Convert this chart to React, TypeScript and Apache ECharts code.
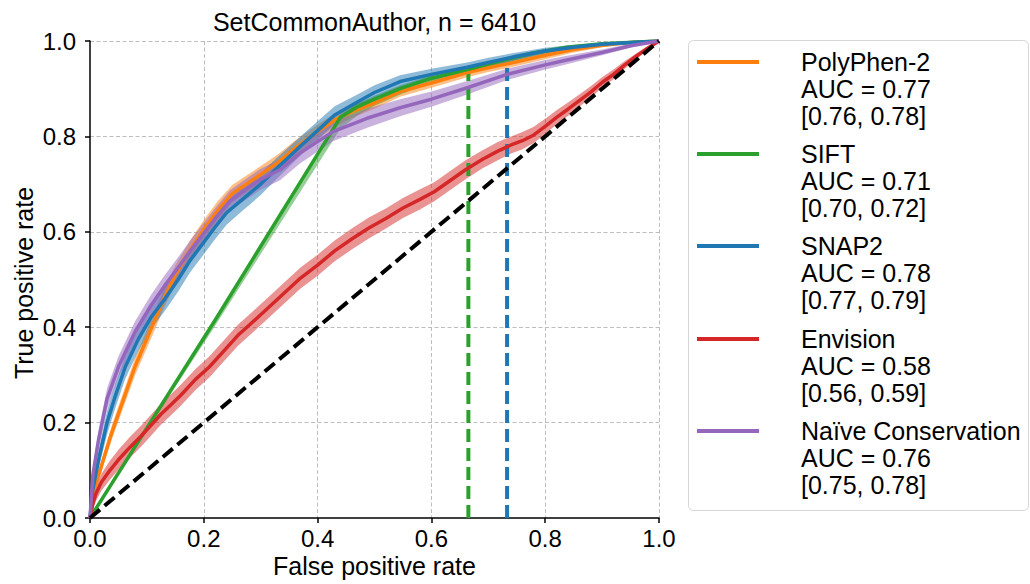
import React, { useEffect, useRef } from "react";
import * as echarts from "echarts";

const FONT = "'Liberation Sans', Arial, Helvetica, sans-serif";

const titleText = "SetCommonAuthor, n = 6410";
const xAxisLabel = "False positive rate";
const yAxisLabel = "True positive rate";
const tickValues = [0, 0.2, 0.4, 0.6, 0.8, 1.0];

const modelNames = ["PolyPhen-2", "SIFT", "SNAP2", "Envision", "Naïve Conservation"];
const aucValues = ["0.77", "0.71", "0.78", "0.58", "0.76"];
const aucIntervals = ["[0.76, 0.78]", "[0.70, 0.72]", "[0.77, 0.79]", "[0.56, 0.59]", "[0.75, 0.78]"];
const modelColors = ["#ff7f0e", "#2ca02c", "#1f77b4", "#d62728", "#9467bd"];

// PolyPhen-2
const polyphenFpr = [0, 0.009, 0.038, 0.079, 0.105, 0.114, 0.13, 0.15, 0.175, 0.2, 0.225, 0.25, 0.275, 0.3, 0.33, 0.36, 0.4, 0.43, 0.46, 0.5, 0.545, 0.6, 0.663, 0.7, 0.733, 0.8, 0.85, 0.9, 0.95, 1];
const polyphenTpr = [0, 0.066, 0.178, 0.317, 0.39, 0.415, 0.46, 0.51, 0.56, 0.605, 0.645, 0.68, 0.7, 0.72, 0.745, 0.775, 0.81, 0.834, 0.852, 0.87, 0.894, 0.912, 0.934, 0.944, 0.952, 0.97, 0.982, 0.991, 0.997, 1];
const polyphenBand = [0, 0.01, 0.015, 0.018, 0.02, 0.02, 0.02, 0.02, 0.02, 0.02, 0.02, 0.018, 0.018, 0.018, 0.017, 0.016, 0.015, 0.014, 0.013, 0.012, 0.011, 0.01, 0.01, 0.009, 0.009, 0.008, 0.006, 0.004, 0.002, 0];

// SIFT
const siftFpr = [0, 0.22, 0.44, 0.47, 0.5, 0.545, 0.6, 0.663, 0.733, 0.779, 0.838, 0.9, 1];
const siftTpr = [0, 0.415, 0.84, 0.862, 0.878, 0.9, 0.922, 0.94, 0.962, 0.975, 0.987, 0.994, 1];
const siftBandLow = [0, 0.012, 0.024, 0.018, 0.014, 0.012, 0.01, 0.008, 0.007, 0.006, 0.004, 0.003, 0];
const siftBandHigh = [0, 0.003, 0.005, 0.007, 0.007, 0.007, 0.006, 0.006, 0.005, 0.004, 0.003, 0.002, 0];

// SNAP2
const snapFpr = [0, 0.005, 0.015, 0.03, 0.044, 0.062, 0.085, 0.108, 0.132, 0.155, 0.176, 0.2, 0.22, 0.24, 0.27, 0.3, 0.33, 0.37, 0.4, 0.43, 0.47, 0.5, 0.545, 0.6, 0.663, 0.7, 0.75, 0.8, 0.85, 0.9, 1];
const snapTpr = [0, 0.06, 0.122, 0.2, 0.254, 0.317, 0.375, 0.422, 0.46, 0.5, 0.54, 0.578, 0.61, 0.64, 0.67, 0.7, 0.735, 0.78, 0.812, 0.845, 0.872, 0.892, 0.915, 0.93, 0.945, 0.955, 0.968, 0.979, 0.987, 0.993, 1];
const snapBand = [0, 0.015, 0.02, 0.025, 0.025, 0.025, 0.025, 0.025, 0.025, 0.025, 0.025, 0.025, 0.025, 0.025, 0.024, 0.023, 0.022, 0.02, 0.02, 0.018, 0.016, 0.015, 0.013, 0.012, 0.01, 0.01, 0.008, 0.007, 0.005, 0.004, 0];

// Envision
const envFpr = [0, 0.005, 0.01, 0.02, 0.035, 0.05, 0.07, 0.09, 0.11, 0.125, 0.14, 0.16, 0.185, 0.21, 0.235, 0.26, 0.285, 0.31, 0.34, 0.37, 0.4, 0.43, 0.46, 0.49, 0.52, 0.55, 0.58, 0.605, 0.63, 0.66, 0.69, 0.715, 0.74, 0.76, 0.78, 0.8, 0.82, 0.84, 0.86, 0.88, 0.9, 0.92, 0.94, 0.96, 0.98, 1];
const envTpr = [0, 0.03, 0.05, 0.075, 0.1, 0.122, 0.148, 0.172, 0.198, 0.218, 0.235, 0.258, 0.29, 0.317, 0.35, 0.383, 0.41, 0.437, 0.47, 0.503, 0.53, 0.56, 0.585, 0.608, 0.628, 0.65, 0.668, 0.684, 0.705, 0.73, 0.752, 0.768, 0.782, 0.791, 0.803, 0.821, 0.84, 0.857, 0.875, 0.893, 0.913, 0.93, 0.95, 0.968, 0.985, 1];
const envBand = [0, 0.012, 0.016, 0.018, 0.02, 0.021, 0.022, 0.022, 0.022, 0.022, 0.022, 0.022, 0.022, 0.022, 0.022, 0.022, 0.022, 0.022, 0.022, 0.022, 0.022, 0.022, 0.022, 0.022, 0.021, 0.021, 0.021, 0.02, 0.02, 0.02, 0.019, 0.019, 0.018, 0.018, 0.017, 0.016, 0.015, 0.014, 0.013, 0.012, 0.011, 0.01, 0.008, 0.006, 0.004, 0];

// Naive Conservation
const naiveFpr = [0, 0.005, 0.015, 0.03, 0.05, 0.079, 0.108, 0.13, 0.158, 0.18, 0.2, 0.22, 0.246, 0.275, 0.3, 0.334, 0.369, 0.427, 0.487, 0.545, 0.6, 0.663, 0.733, 0.8, 0.838, 0.9, 0.95, 1];
const naiveTpr = [0, 0.09, 0.164, 0.25, 0.317, 0.39, 0.447, 0.485, 0.53, 0.566, 0.597, 0.628, 0.665, 0.69, 0.71, 0.73, 0.765, 0.81, 0.838, 0.86, 0.878, 0.902, 0.93, 0.95, 0.96, 0.976, 0.99, 1];
const naiveBand = [0, 0.015, 0.02, 0.022, 0.022, 0.022, 0.022, 0.022, 0.022, 0.022, 0.022, 0.022, 0.022, 0.022, 0.022, 0.022, 0.022, 0.02, 0.02, 0.018, 0.016, 0.014, 0.012, 0.01, 0.009, 0.006, 0.004, 0];

// chance diagonal and operating-point markers
const chanceLine = [[0, 0], [1, 1]];
const siftMarker = [[0.665, 0], [0.665, 0.939]];
const snapMarker = [[0.733, 0], [0.733, 0.944]];

const GRID = { left: 90, top: 41, right: 371, bottom: 66 };

function bandSeries(fpr: number[], lo: number[], hi: number[], color: string) {
  const pts = fpr.map((x, i) => [x, lo[i], hi[i]]);
  return {
    type: "custom",
    silent: true,
    clip: true,
    data: pts.map((p) => [p[0], (p[1] + p[2]) / 2]),
    encode: { x: 0, y: 1 },
    renderItem: (params: any, api: any) => {
      if (params.dataIndex !== 0) return null;
      const upper = pts.map((p) => api.coord([p[0], p[2]]));
      const lower = pts.map((p) => api.coord([p[0], p[1]])).reverse();
      return {
        type: "polygon",
        shape: { points: upper.concat(lower) },
        style: { fill: color, opacity: 0.5 },
      };
    },
  };
}

function lineSeries(fpr: number[], tpr: number[], color: string, name: string) {
  return {
    type: "line",
    name,
    silent: true,
    data: fpr.map((x, i) => [x, tpr[i]]),
    symbol: "none",
    showSymbol: false,
    clip: true,
    lineStyle: { color, width: 3.5, join: "round" },
    itemStyle: { color },
  };
}

function dashedSeries(data: number[][], color: string) {
  return {
    type: "line",
    silent: true,
    data,
    symbol: "none",
    showSymbol: false,
    clip: false,
    lineStyle: { color, width: 4, type: [13, 6] },
    itemStyle: { color },
  };
}

export default function App() {
  const ref = useRef<HTMLDivElement>(null);
  useEffect(() => {
    if (!ref.current) return;
    const chart = echarts.init(ref.current, null, { renderer: "svg" });

    const curves = [
      { fpr: polyphenFpr, tpr: polyphenTpr, lo: polyphenTpr.map((v, i) => v - polyphenBand[i]), hi: polyphenTpr.map((v, i) => v + polyphenBand[i]) },
      { fpr: siftFpr, tpr: siftTpr, lo: siftTpr.map((v, i) => v - siftBandLow[i]), hi: siftTpr.map((v, i) => v + siftBandHigh[i]) },
      { fpr: snapFpr, tpr: snapTpr, lo: snapTpr.map((v, i) => v - snapBand[i]), hi: snapTpr.map((v, i) => v + snapBand[i]) },
      { fpr: envFpr, tpr: envTpr, lo: envTpr.map((v, i) => v - envBand[i]), hi: envTpr.map((v, i) => v + envBand[i]) },
      { fpr: naiveFpr, tpr: naiveTpr, lo: naiveTpr.map((v, i) => v - naiveBand[i]), hi: naiveTpr.map((v, i) => v + naiveBand[i]) },
    ];

    const series: any[] = [];
    series.push(dashedSeries(siftMarker, modelColors[1]));
    series.push(dashedSeries(snapMarker, modelColors[2]));
    curves.forEach((c, k) => {
      series.push(bandSeries(c.fpr, c.lo, c.hi, modelColors[k]));
      series.push(lineSeries(c.fpr, c.tpr, modelColors[k], modelNames[k]));
    });
    series.push(dashedSeries(chanceLine, "#000000"));

    const legendX = 688.5;
    const legendY = 40.5;
    const entryY = [62, 154, 246, 339, 431];
    const graphics: any[] = [
      {
        type: "text",
        x: 374.5,
        y: 22,
        style: { text: titleText, font: `25px ${FONT}`, fill: "#000", align: "center", verticalAlign: "middle" },
      },
      {
        type: "text",
        x: 374.5,
        y: 566,
        style: { text: xAxisLabel, font: `25px ${FONT}`, fill: "#000", align: "center", verticalAlign: "middle" },
      },
      {
        type: "text",
        x: 24,
        y: 283,
        rotation: Math.PI / 2,
        style: { text: yAxisLabel, font: `25px ${FONT}`, fill: "#000", align: "center", verticalAlign: "middle" },
      },
      {
        type: "rect",
        shape: { x: legendX, y: legendY, width: 340, height: 470, r: 5 },
        style: { fill: "#ffffff", stroke: "#d6d6d6", lineWidth: 1 },
      },
    ];
    modelNames.forEach((name, k) => {
      const y = entryY[k];
      graphics.push({
        type: "line",
        shape: { x1: 697, y1: y, x2: 759, y2: y },
        style: { stroke: modelColors[k], lineWidth: 4 },
      });
      const lines = [name, `AUC = ${aucValues[k]}`, aucIntervals[k]];
      lines.forEach((t, j) => {
        graphics.push({
          type: "text",
          x: 801,
          y: y + j * 27,
          style: { text: t, font: `25px ${FONT}`, fill: "#000", align: "left", verticalAlign: "middle" },
        });
      });
    });

    const axisCommon = {
      type: "value",
      min: 0,
      max: 1,
      interval: 0.2,
      axisLine: { show: true, onZero: false, lineStyle: { color: "#000", width: 1.5 } },
      axisTick: { show: true, inside: false, length: 5, lineStyle: { color: "#000", width: 1.5 } },
      splitLine: { show: true, showMinLine: false, lineStyle: { color: "#bdbdbd", width: 1, type: [4, 2.5] } },
    };

    const tickFmt = (v: number) => (tickValues.some((t) => Math.abs(t - v) < 1e-9) ? v.toFixed(1) : "");

    chart.setOption({
      animation: false,
      backgroundColor: "#ffffff",
      grid: { ...GRID, containLabel: false },
      xAxis: {
        ...axisCommon,
        axisLabel: { fontSize: 24, fontFamily: FONT, color: "#000", margin: 8, formatter: tickFmt },
      },
      yAxis: {
        ...axisCommon,
        axisLabel: { fontSize: 24, fontFamily: FONT, color: "#000", margin: 14, formatter: tickFmt },
      },
      series,
      graphic: graphics,
    });

    return () => chart.dispose();
  }, []);

  return <div ref={ref} style={{ position: "fixed", left: 0, top: 0, width: 1030, height: 584 }} />;
}
